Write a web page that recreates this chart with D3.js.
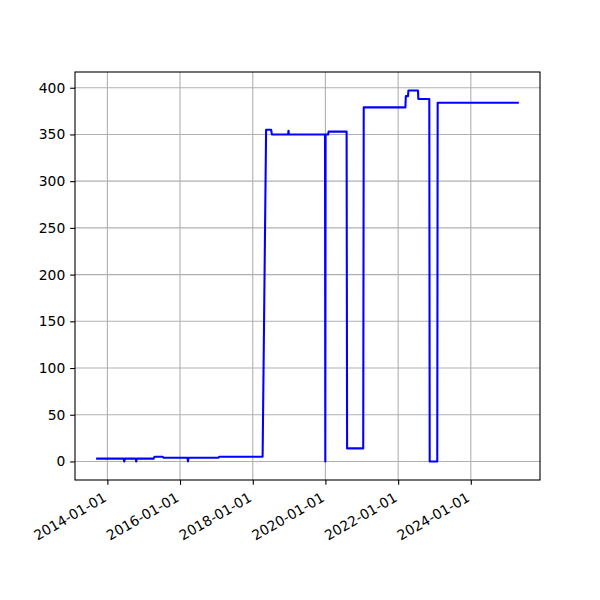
<!DOCTYPE html>
<html><head><meta charset="utf-8">
<script src="https://cdn.jsdelivr.net/npm/d3@7"></script>
<style>body{margin:0;background:#fff}svg{display:block}text{font-family:"DejaVu Sans",sans-serif}</style>
</head><body>
<script>
const dates = ["2013-09-10","2014-06-15","2014-06-20","2014-06-25","2014-10-13","2014-10-18","2014-10-23",
"2015-04-10","2015-04-20","2015-07-10","2015-07-20","2016-03-16","2016-03-21","2016-03-26",
"2017-01-20","2017-01-30","2018-04-10","2018-05-15","2018-07-05","2018-07-12","2018-12-22","2018-12-26","2018-12-30",
"2019-12-28","2019-12-31","2020-01-03","2020-01-28","2020-02-02","2020-08-01","2020-08-06","2021-01-15","2021-01-20",
"2022-03-15","2022-03-19","2022-04-10","2022-04-14","2022-07-19","2022-07-23","2022-11-10","2022-11-14",
"2023-01-29","2023-02-02","2025-04-28"];
const values = [3,3,0,3,3,0,3,
3,5,5,4,4,0,4,
4,5,5,355,355,350,350,354,350,
350,0,350,350,353,353,14,14,379,
379,391,391,397,397,388,388,0,
0,384,384];
const xTickLabels = ["2014-01-01","2016-01-01","2018-01-01","2020-01-01","2022-01-01","2024-01-01"];
const yTicks = [0,50,100,150,200,250,300,350,400];

const W=600,H=600, L=75,R=540,T=72,B=480;
const parse = d3.timeParse("%Y-%m-%d");
const pts = dates.map((d,i)=>({t:parse(d),v:values[i]}));
const tExt = d3.extent(pts,d=>d.t), vExt = d3.extent(pts,d=>d.v);
const tPad = (tExt[1]-tExt[0])*0.05, vPad=(vExt[1]-vExt[0])*0.05;
const x = d3.scaleTime().domain([new Date(+tExt[0]-tPad), new Date(+tExt[1]+tPad)]).range([L,R]);
const y = d3.scaleLinear().domain([vExt[0]-vPad, vExt[1]+vPad]).range([B,T]);

const svg = d3.select("body").append("svg").attr("width",W).attr("height",H);
const xt = xTickLabels.map(parse);
// grid
svg.append("g").selectAll("line").data(xt).join("line")
 .attr("x1",d=>x(d)).attr("x2",d=>x(d)).attr("y1",T).attr("y2",B)
 .attr("stroke","#b0b0b0").attr("stroke-width",1.1);
svg.append("g").selectAll("line").data(yTicks).join("line")
 .attr("y1",d=>y(d)).attr("y2",d=>y(d)).attr("x1",L).attr("x2",R)
 .attr("stroke","#b0b0b0").attr("stroke-width",1.1);
// line
svg.append("path").datum(pts)
 .attr("d", d3.line().x(d=>x(d.t)).y(d=>y(d.v)))
 .attr("fill","none").attr("stroke","#0000ff").attr("stroke-width",2.08)
 .attr("stroke-linejoin","round").attr("stroke-linecap","butt");
// axes
const xa = svg.append("g").attr("transform",`translate(0,${B})`)
 .call(d3.axisBottom(x).tickValues(xt).tickFormat(d3.timeFormat("%Y-%m-%d")).tickSizeInner(4.86).tickSizeOuter(0).tickPadding(4.86));
xa.select(".domain").remove();
xa.selectAll("line").attr("stroke","#000").attr("stroke-width",1.1);
xa.selectAll("text").attr("font-size","13.89px").attr("fill","#000")
 .attr("text-anchor","end").attr("dy",null).attr("y",null)
 .attr("transform","translate(-0.6,20.4) rotate(-30)");
const ya = svg.append("g").attr("transform",`translate(${L},0)`)
 .call(d3.axisLeft(y).tickValues(yTicks).tickSizeInner(4.86).tickSizeOuter(0).tickPadding(4.86));
ya.select(".domain").remove();
ya.selectAll("line").attr("stroke","#000").attr("stroke-width",1.1);
ya.selectAll("text").attr("font-size","13.89px").attr("fill","#000");
svg.append("rect").attr("x",L).attr("y",T).attr("width",R-L).attr("height",B-T)
 .attr("fill","none").attr("stroke","#000").attr("stroke-width",1.1);
</script>
</body></html>
